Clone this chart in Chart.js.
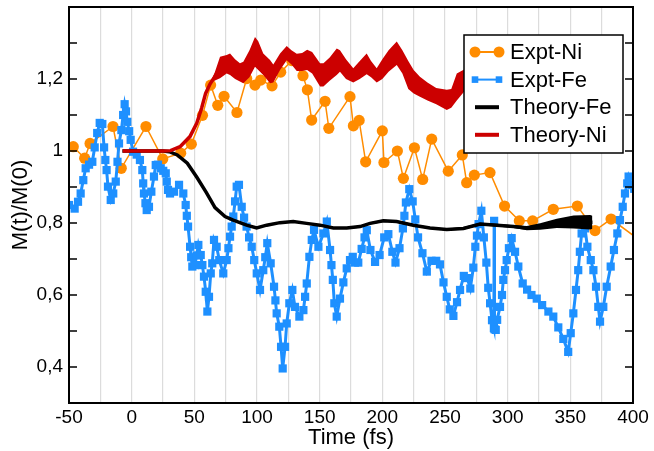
<!DOCTYPE html>
<html><head><meta charset="utf-8">
<script src="https://cdn.jsdelivr.net/npm/chart.js@4.4.1/dist/chart.umd.min.js"></script>
<style>html,body{margin:0;padding:0;background:#fff;}canvas{display:block;}</style>
</head><body>
<canvas id="c" width="654" height="451"></canvas>
<script>
// ---- axis ticks ----
const xTickLabels = [-50, 0, 50, 100, 150, 200, 250, 300, 350, 400];
const xGridTimes = [-50,-25,0,25,50,75,100,125,150,175,200,225,250,275,300,325,350,375,400];
const yTickValues = [0.4, 0.6, 0.8, 1.0, 1.2];
const yTickLabels = ['0,4', '0,6', '0,8', '1', '1,2'];
const yMinorTicks = [0.3, 0.5, 0.7, 0.9, 1.1, 1.3];

// ---- Expt-Ni ----
const exptNiTime = [-46.6,-37.5,-33.2,-14.9,-8.3,11.4,24.8,39.1,47.6,56.5,63,68.7,73.7,84,91.8,98.4,103,112,118.9,127.7,136.7,140.2,143.6,154.3,157.3,174.2,176.9,181.5,186.7,200,201.3,212,216.8,225.6,232.2,239.4,252.6,263.8,267.3,273.4,285.9,297.5,309.3,319.9,336.4,355.6,369.7,382.5,410];
const exptNiValue = [1.012,0.98,1.021,1.068,0.952,1.068,0.978,0.994,1.019,1.099,1.183,1.127,1.152,1.107,1.201,1.183,1.197,1.181,1.219,1.251,1.209,1.17,1.086,1.138,1.063,1.151,1.07,1.085,0.97,1.056,0.968,1.0,0.924,1.009,0.921,1.033,0.944,0.989,0.912,0.933,0.94,0.847,0.806,0.806,0.838,0.847,0.779,0.811,0.74];

// ---- Expt-Fe ----
const exptFeTime = [-50,-45.5,-42.8,-40.7,-38.6,-36.7,-34,-31.4,-29.5,-27.5,-25.5,-23.4,-22,-21,-20,-18.9,-16.7,-14.7,-12.7,-11.3,-10.1,-8.2,-6.8,-5.6,-4.5,-3.5,-2,-0.8,1.1,4,6.6,8.5,9.2,9.8,11,12,13.8,15.7,17.8,19.2,21,23.2,25.2,27.2,28,29,30.6,33.8,37.8,41.2,43.1,44,45,46.6,47.5,48.4,50.5,51.8,53.2,55.1,56.4,57.7,59.1,60.4,61.7,63.1,64.3,65.7,67.8,69.9,73.1,75.8,77.2,78.5,79.8,81.1,82.5,83.8,85.6,87.8,89.7,91.7,93.7,95.8,97.8,99.8,102.4,105,106.6,108.2,110.9,113.6,114.7,115.7,117.8,119.2,120.5,122.4,123.7,125.8,128.2,130.3,133.8,137,138.4,139.7,141.8,143.7,145.5,149,153,155.7,158.3,159.4,160.5,161.7,163.6,166.2,168.9,171.6,174.2,176.4,178.2,180.8,183.5,185.8,187.6,190.5,194.2,197.8,201.5,204.8,208,210.5,213.7,216.4,217.6,218.8,221.5,224.2,226.3,228.5,232,235.5,239.2,243,246,248.8,251.4,253.8,256.7,259.6,262,265,267.7,270.2,272.6,274.2,275.5,276.8,279,281,283,284.5,286,287.5,289,289.2,289.5,290.5,291.6,293.9,295.5,296.5,297.9,299.2,301,303.2,305.9,308.5,312,315.5,319,323.2,327.5,332.5,336.4,340.4,344.4,348.3,350.3,352.4,354.5,356.3,357.6,359,361.7,363.6,366.3,368.4,370.5,372.3,373.7,376.3,379,382.2,384.8,387.5,389.6,391.8,393.6,395.4,396.5,399,401];
const exptFeValue = [0.85,0.84,0.859,0.882,0.919,0.952,0.962,0.97,1.01,1.05,1.078,1.075,1.01,0.975,0.947,0.901,0.864,0.882,0.915,0.97,1.021,1.058,1.1,1.13,1.11,1.081,1.055,1.031,0.998,0.99,0.975,0.947,0.91,0.882,0.855,0.836,0.845,0.887,0.929,0.961,0.962,0.952,0.945,0.938,0.915,0.892,0.882,0.887,0.906,0.882,0.85,0.82,0.79,0.734,0.705,0.679,0.683,0.71,0.739,0.711,0.683,0.651,0.609,0.554,0.595,0.66,0.688,0.753,0.734,0.697,0.66,0.697,0.73,0.762,0.79,0.818,0.86,0.901,0.906,0.845,0.815,0.79,0.76,0.734,0.697,0.66,0.614,0.669,0.705,0.744,0.688,0.623,0.585,0.549,0.512,0.456,0.396,0.456,0.521,0.577,0.614,0.567,0.54,0.558,0.595,0.632,0.706,0.753,0.781,0.734,0.771,0.804,0.725,0.683,0.642,0.577,0.54,0.59,0.635,0.674,0.697,0.706,0.69,0.69,0.728,0.76,0.78,0.725,0.692,0.711,0.76,0.769,0.72,0.69,0.73,0.785,0.82,0.857,0.894,0.86,0.81,0.76,0.716,0.665,0.695,0.695,0.685,0.635,0.595,0.56,0.542,0.58,0.614,0.653,0.647,0.618,0.676,0.734,0.765,0.797,0.834,0.76,0.69,0.62,0.577,0.53,0.508,0.806,0.505,0.503,0.531,0.567,0.6,0.642,0.669,0.697,0.73,0.758,0.72,0.679,0.632,0.615,0.6,0.59,0.572,0.554,0.54,0.51,0.478,0.442,0.494,0.549,0.614,0.669,0.72,0.771,0.785,0.734,0.697,0.669,0.623,0.567,0.526,0.567,0.623,0.679,0.725,0.771,0.808,0.845,0.882,0.91,0.929,0.905,0.895];

// ---- Theory-Fe (value and half-width of the fast oscillation band) ----
const theoryFeTime = [-7.4,25,30,36.4,44.4,52,59.5,66.5,74.5,81,91.7,99.7,107.7,118.3,128.9,139.6,150.3,160.9,171.6,182.2,190.2,200.8,211.4,224.7,238,251.4,264.7,278,291.3,304.6,315.3,325.9,339.2,352.5,365.8,367.6];
const theoryFeValue = [1.0,1.0,0.998,0.989,0.966,0.927,0.885,0.843,0.818,0.808,0.794,0.786,0.794,0.801,0.804,0.799,0.794,0.786,0.786,0.79,0.799,0.806,0.804,0.794,0.786,0.782,0.785,0.797,0.794,0.79,0.786,0.79,0.799,0.803,0.802,0.802];
const theoryFeSpread = [0,0,0,0,0,0,0,0,0.002,0.002,0.002,0.002,0.002,0.002,0.002,0.002,0.002,0.003,0.003,0.003,0.003,0.003,0.003,0.003,0.003,0.003,0.004,0.004,0.004,0.004,0.006,0.009,0.013,0.018,0.02,0.018];

// ---- Theory-Ni (lower / upper edge of the oscillation band) ----
const theoryNiTime = [-7.2,25,31,38.6,46.5,51.9,55.9,59,62.5,66,70.5,75.8,78.5,82.5,86.4,89.1,94,98.4,101,105,110.4,113,118.4,123.7,127.5,131.7,136,140,144,150.3,153,158,163.6,166.2,171,176.8,182,187.5,191,195.5,200,205,211.5,216,220.7,225,230,236,243,251.4,255,259.4,266,272,285];
const theoryNiLow = [1.0,1.0,1.001,1.012,1.04,1.077,1.12,1.16,1.186,1.195,1.202,1.215,1.211,1.2,1.193,1.188,1.205,1.234,1.225,1.211,1.188,1.19,1.225,1.252,1.24,1.222,1.222,1.225,1.215,1.179,1.179,1.195,1.211,1.22,1.2,1.19,1.2,1.213,1.205,1.19,1.2,1.22,1.239,1.215,1.172,1.16,1.151,1.14,1.13,1.114,1.12,1.14,1.168,1.18,1.17];
const theoryNiHigh = [1.0,1.0,1.001,1.012,1.04,1.077,1.12,1.16,1.186,1.215,1.262,1.267,1.271,1.255,1.244,1.248,1.28,1.317,1.305,1.271,1.253,1.24,1.271,1.292,1.28,1.27,1.272,1.281,1.275,1.244,1.244,1.26,1.285,1.28,1.255,1.23,1.25,1.271,1.25,1.23,1.255,1.28,1.304,1.28,1.25,1.225,1.206,1.19,1.175,1.17,1.172,1.215,1.228,1.24,1.23];

const pts = (xs, ys) => xs.map((x, i) => ({x: x, y: ys[i]}));
const niMid = theoryNiLow.map((v, i) => (v + theoryNiHigh[i]) / 2);
const feHi = theoryFeValue.map((v, i) => v + theoryFeSpread[i]);
const feLo = theoryFeValue.map((v, i) => v - theoryFeSpread[i]);

const ORANGE = '#ff8c00', BLUE = '#1e90ff', RED = '#cc0000', BLACK = '#000000';

const datasets = [
  {label: 'Theory-Ni', data: pts(theoryNiTime, niMid), borderColor: RED, borderWidth: 3.5, pointRadius: 0, fill: false, order: 1},
  {label: '_niHi', data: pts(theoryNiTime, theoryNiHigh), borderColor: 'rgba(0,0,0,0)', borderWidth: 0, pointRadius: 0, fill: false, order: 2},
  {label: '_niLo', data: pts(theoryNiTime, theoryNiLow), borderColor: 'rgba(0,0,0,0)', borderWidth: 0, pointRadius: 0, fill: '-1', backgroundColor: RED, order: 2},
  {label: 'Theory-Fe', data: pts(theoryFeTime, theoryFeValue), borderColor: BLACK, borderWidth: 3.5, pointRadius: 0, fill: false, order: 3},
  {label: '_feHi', data: pts(theoryFeTime, feHi), borderColor: 'rgba(0,0,0,0)', borderWidth: 0, pointRadius: 0, fill: false, order: 4},
  {label: '_feLo', data: pts(theoryFeTime, feLo), borderColor: 'rgba(0,0,0,0)', borderWidth: 0, pointRadius: 0, fill: '-1', backgroundColor: BLACK, order: 4},
  {label: 'Expt-Fe', data: pts(exptFeTime, exptFeValue), borderColor: BLUE, borderWidth: 3, pointStyle: 'rect', pointRadius: 5.8, pointBackgroundColor: BLUE, pointBorderColor: BLUE, pointBorderWidth: 0, fill: false, order: 5},
  {label: 'Expt-Ni', data: pts(exptNiTime, exptNiValue), borderColor: ORANGE, borderWidth: 1.5, pointStyle: 'circle', pointRadius: 5.6, pointBackgroundColor: ORANGE, pointBorderWidth: 0, fill: false, order: 6}
];
const legendLabels = ['Expt-Ni', 'Expt-Fe', 'Theory-Fe', 'Theory-Ni'];

const FONT = "'Liberation Sans', Arial, Helvetica, sans-serif";
Chart.defaults.font.family = FONT;
Chart.defaults.color = '#000';

const framePlugin = {
  id: 'frameAndLegend',
  afterDatasetsDraw(chart) {
    const {ctx, chartArea: a, scales: {y}} = chart;
    ctx.save();
    ctx.strokeStyle = '#000';
    ctx.lineWidth = 1.5;
    yTickValues.concat(yMinorTicks).forEach(v => {
      const py = y.getPixelForValue(v);
      ctx.beginPath();
      ctx.moveTo(a.left, py); ctx.lineTo(a.left + 8, py);
      ctx.moveTo(a.right, py); ctx.lineTo(a.right - 8, py);
      ctx.stroke();
    });
    ctx.lineWidth = 2;
    ctx.strokeRect(a.left, a.top, a.right - a.left, a.bottom - a.top);
    ctx.restore();
  },
  afterDraw(chart) {
    const {ctx, chartArea: a} = chart;
    const bx = a.right - 169, by = a.top + 28, bw = 159, bh = 118;
    ctx.save();
    ctx.fillStyle = '#fff';
    ctx.fillRect(bx, by, bw, bh);
    ctx.strokeStyle = '#000';
    ctx.lineWidth = 1.5;
    ctx.strokeRect(bx, by, bw, bh);
    ctx.font = '22px ' + FONT;
    ctx.textBaseline = 'middle';
    ctx.textAlign = 'left';
    legendLabels.forEach((lab, i) => {
      const ds = chart.data.datasets.find(d => d.label === lab);
      const cy = by + 17 + i * 27.6;
      const x1 = bx + 11, x2 = bx + 35;
      ctx.strokeStyle = ds.borderColor;
      ctx.lineWidth = ds.pointRadius ? 2 : 4;
      ctx.beginPath(); ctx.moveTo(x1, cy); ctx.lineTo(x2, cy); ctx.stroke();
      if (ds.pointRadius) {
        ctx.fillStyle = ds.pointBackgroundColor;
        [x1, x2].forEach(px => {
          if (ds.pointStyle === 'rect') {
            ctx.fillRect(px - 3.3, cy - 3.3, 6.6, 6.6);
          } else {
            ctx.beginPath(); ctx.arc(px, cy, 5.5, 0, Math.PI * 2); ctx.fill();
          }
        });
      }
      ctx.fillStyle = '#000';
      ctx.fillText(lab, bx + 46, cy + 1);
    });
    ctx.restore();
  }
};

new Chart(document.getElementById('c'), {
  type: 'line',
  data: {datasets: datasets},
  options: {
    responsive: false,
    animation: false,
    devicePixelRatio: 1,
    layout: {padding: {left: 0, top: 7, right: 21, bottom: 0}},
    plugins: {legend: {display: false}, tooltip: {enabled: false}, filler: {propagate: false}},
    elements: {line: {tension: 0}},
    scales: {
      x: {
        type: 'linear', min: -50, max: 400,
        afterBuildTicks: s => { s.ticks = xGridTimes.map(v => ({value: v})); },
        afterFit: s => { s.height = 48; s.paddingLeft = 0; s.paddingRight = 0; },
        ticks: {autoSkip: false, maxRotation: 0, padding: 3, color: '#000', font: {size: 19},
          callback: v => xTickLabels.includes(v) ? String(v) : ''},
        grid: {color: '#dcdcdc', lineWidth: 1.2, drawTicks: false},
        border: {display: false},
        title: {display: true, text: 'Time (fs)', color: '#000', font: {size: 22}, padding: {top: 0, bottom: 0}}
      },
      y: {
        type: 'linear', min: 0.3, max: 1.4,
        afterBuildTicks: s => { s.ticks = yTickValues.map(v => ({value: v})); },
        afterFit: s => { s.width = 69; s.paddingTop = 0; s.paddingBottom = 0; },
        ticks: {autoSkip: false, padding: 6, color: '#000', font: {size: 19},
          callback: (v, i) => yTickLabels[i]},
        grid: {display: false, drawTicks: false},
        border: {display: false},
        title: {display: true, text: 'M(t)/M(0)', color: '#000', font: {size: 22}, padding: {top: 8, bottom: 0}}
      }
    }
  },
  plugins: [framePlugin]
});
</script>
</body></html>
